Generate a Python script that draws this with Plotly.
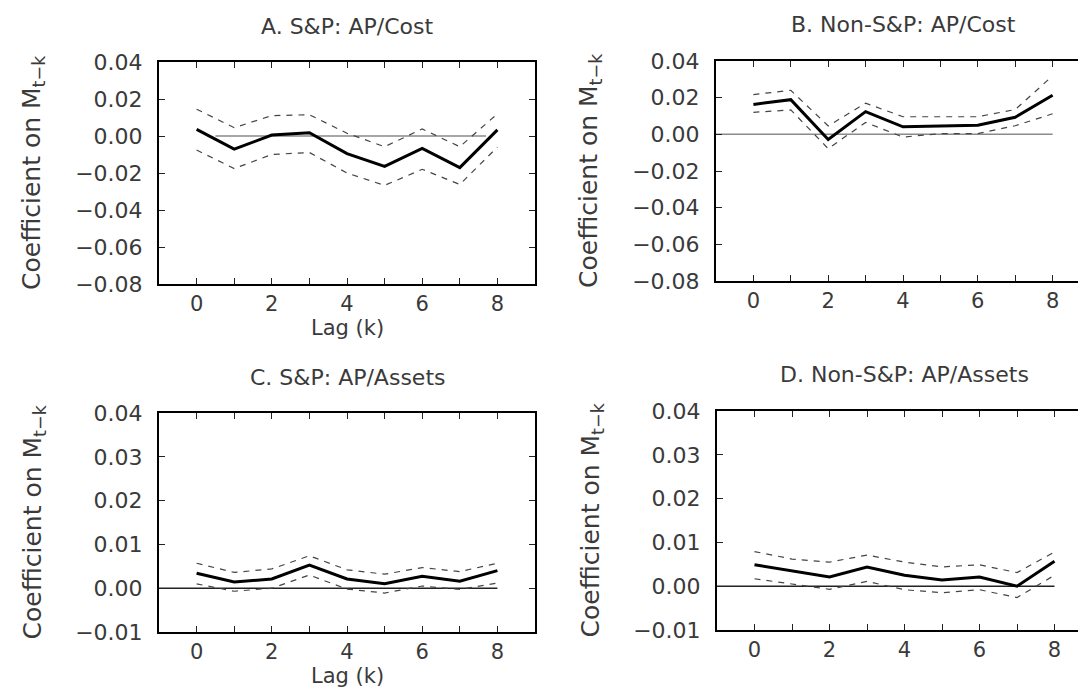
import plotly.graph_objects as go

# ---------------- data ----------------
lags = [0, 1, 2, 3, 4, 5, 6, 7, 8]

titles = ["A. S&P: AP/Cost", "B. Non-S&P: AP/Cost",
          "C. S&P: AP/Assets", "D. Non-S&P: AP/Assets"]

a_coef = [0.0036, -0.0071, 0.0005, 0.0018, -0.0095, -0.0164, -0.0067, -0.0171, 0.0033]
a_up = [0.0145, 0.0045, 0.0110, 0.0115, 0.0015, -0.0058, 0.0038, -0.0058, 0.0120]
a_lo = [-0.0076, -0.0176, -0.0100, -0.0089, -0.0200, -0.0267, -0.0180, -0.0262, -0.0060]

b_coef = [0.0163, 0.0189, -0.0028, 0.0124, 0.0041, 0.0046, 0.0050, 0.0093, 0.0213]
b_up = [0.0217, 0.0240, 0.0046, 0.0170, 0.0096, 0.0096, 0.0096, 0.0135, 0.0319]
b_lo = [0.0120, 0.0133, -0.0078, 0.0065, -0.0015, 0.0004, 0.0004, 0.0047, 0.0112]

c_coef = [0.0034, 0.0014, 0.0021, 0.0053, 0.0021, 0.0010, 0.0027, 0.0016, 0.0040]
c_up = [0.0057, 0.0036, 0.0044, 0.0074, 0.0042, 0.0032, 0.0047, 0.0038, 0.0057]
c_lo = [0.0010, -0.0007, 0.0000, 0.0030, -0.0002, -0.0011, 0.0005, -0.0003, 0.0012]

d_coef = [0.0049, 0.0035, 0.0021, 0.0044, 0.0025, 0.0014, 0.0021, 0.0000, 0.0057]
d_up = [0.0079, 0.0062, 0.0055, 0.0071, 0.0055, 0.0044, 0.0049, 0.0031, 0.0078]
d_lo = [0.0017, 0.0005, -0.0007, 0.0011, -0.0008, -0.0015, -0.0008, -0.0026, 0.0025]

y_ranges = [(-0.08, 0.04), (-0.08, 0.04), (-0.01, 0.04), (-0.01, 0.04)]
y_dticks = [0.02, 0.02, 0.01, 0.01]
zero_extent = [(0.5, 7.7), (-1, 8), (-1, 8), (-1, 8)]
zero_colors = ["#8a8a8a", "#8a8a8a", "#222222", "#222222"]

series = [(a_coef, a_up, a_lo), (b_coef, b_up, b_lo),
          (c_coef, c_up, c_lo), (d_coef, d_up, d_lo)]

# ---------------- layout geometry (pixels) ----------------
W, H = 1086, 691
boxes = [  # left, right, top, bottom
    (151, 527, 54, 276),
    (708, 1082, 53, 273),
    (151, 527, 405, 624),
    (709, 1084, 403, 622),
]

FONT = "DejaVu Sans"
TXT = "#3a3a3a"

fig = go.Figure()
layout = dict(
    width=W, height=H, margin=dict(l=0, r=0, t=0, b=0),
    paper_bgcolor="white", plot_bgcolor="white", showlegend=False,
    template="none",
)
annotations = []
shapes = []

for i, (box, (coef, up, lo)) in enumerate(zip(boxes, series)):
    n = "" if i == 0 else str(i + 1)
    xa, ya = "x" + n, "y" + n
    l, r, t, b = box
    xdom = [l / W, r / W]
    ydom = [1 - b / H, 1 - t / H]
    layout["xaxis" + n] = dict(
        domain=xdom, anchor=ya, range=[-1, 9],
        tick0=0, dtick=2,
        ticks="inside", ticklen=6, tickwidth=1, tickcolor="#222",
        minor=dict(tick0=0, dtick=1, ticks="inside", ticklen=6, tickwidth=1, tickcolor="#222"),
        showline=True, linecolor="black", linewidth=2, mirror="ticks",
        showgrid=False, zeroline=False, automargin=False,
        tickfont=dict(family=FONT, size=21, color=TXT),
    )
    layout["yaxis" + n] = dict(
        domain=ydom, anchor=xa, range=list(y_ranges[i]),
        dtick=y_dticks[i], tick0=0, tickformat=".2f",
        ticks="inside", ticklen=6, tickwidth=1, tickcolor="#222",
        showline=True, linecolor="black", linewidth=2, mirror="ticks",
        showgrid=False, zeroline=False, automargin=False,
        ticklabelstandoff=10,
        tickfont=dict(family=FONT, size=22, color=TXT),
    )
    z0, z1 = zero_extent[i]
    shapes.append(dict(type="line", xref=xa, yref=ya, x0=z0, x1=z1, y0=0, y1=0,
                       line=dict(color=zero_colors[i], width=1.5), layer="below"))
    for band in (up, lo):
        fig.add_trace(go.Scatter(x=lags, y=band, mode="lines", xaxis=xa, yaxis=ya,
                                 line=dict(color="#444", width=1.2, dash="6px,6px"),
                                 hoverinfo="skip"))
    fig.add_trace(go.Scatter(x=lags, y=coef, mode="lines", xaxis=xa, yaxis=ya,
                             line=dict(color="black", width=3)))
    cx = (l + r) / 2 / W
    # panel title
    annotations.append(dict(text=titles[i], xref="paper", yref="paper",
                            x=cx, y=1 - (t - 36) / H, xanchor="center", yanchor="middle",
                            showarrow=False, font=dict(family=FONT, size=22, color=TXT)))
    # y-axis title
    annotations.append(dict(text="Coefficient on M<sub>t\u2212k</sub>", xref="paper", yref="paper",
                            x=(l - 126) / W, y=1 - ((t + b) / 2) / H,
                            xanchor="center", yanchor="middle", textangle=-90,
                            showarrow=False, font=dict(family=FONT, size=25, color=TXT)))
    if i in (0, 2):
        annotations.append(dict(text="Lag (k)", xref="paper", yref="paper",
                                x=cx, y=1 - (b + 44) / H, xanchor="center", yanchor="middle",
                                showarrow=False, font=dict(family=FONT, size=21, color=TXT)))

layout["annotations"] = annotations
layout["shapes"] = shapes
fig.update_layout(**layout)
fig.write_html("out.html")
